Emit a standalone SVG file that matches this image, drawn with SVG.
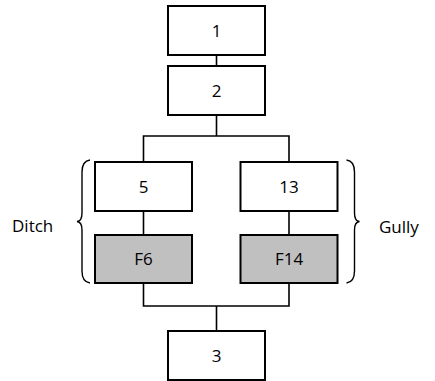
<svg xmlns="http://www.w3.org/2000/svg" width="435" height="381" viewBox="0 0 435 381">
<style>
.box{fill:#ffffff;stroke:#000000;stroke-width:2}
.grey{fill:#c0c0c0}
.conn{fill:none;stroke:#000000;stroke-width:1.6}
.brace{fill:none;stroke:#000000;stroke-width:1.4}
text{font-family:"Open Sans","Liberation Sans",sans-serif;font-size:17px;fill:#000000}
.c{text-anchor:middle}
</style>
<rect width="435" height="381" fill="#ffffff"/>
<g id="connectors">
<path class="conn" d="M216.5 55 V66"/>
<path class="conn" d="M216.5 115 V136 M143.5 162 V136 H289 V162"/>
<path class="conn" d="M143.5 211 V235"/>
<path class="conn" d="M289 211 V235"/>
<path class="conn" d="M143.5 283 V306 H289 V283 M216.5 306 V331"/>
</g>
<g id="n1"><rect class="box" x="168" y="6" width="97" height="49"/><text class="c" x="216.5" y="36.5">1</text></g>
<g id="n2"><rect class="box" x="168" y="66" width="97" height="49"/><text class="c" x="216.5" y="96.5">2</text></g>
<g id="n5"><rect class="box" x="95" y="162" width="97" height="49"/><text class="c" x="143.5" y="192.5">5</text></g>
<g id="n13"><rect class="box" x="240.5" y="162" width="97" height="49"/><text class="c" x="289" y="192.5">13</text></g>
<g id="nF6"><rect class="box grey" x="95" y="235" width="97" height="48"/><text class="c" x="143.5" y="265">F6</text></g>
<g id="nF14"><rect class="box grey" x="240.5" y="235" width="97" height="48"/><text class="c" x="289" y="265">F14</text></g>
<g id="n3"><rect class="box" x="168" y="331" width="97" height="49"/><text class="c" x="216.5" y="361.5">3</text></g>
<g id="ditch">
<path class="brace" d="M90 160 Q82 161 82 172 L82 213 Q82 221 77 221.5 Q82 222 82 230 L82 271 Q82 282 90 283"/>
<text x="12" y="232">Ditch</text>
</g>
<g id="gully">
<path class="brace" d="M346.5 160 Q354.5 161 354.5 172 L354.5 213 Q354.5 221 359.5 221.5 Q354.5 222 354.5 230 L354.5 271 Q354.5 282 346.5 283"/>
<text x="379" y="233">Gully</text>
</g>
</svg>
